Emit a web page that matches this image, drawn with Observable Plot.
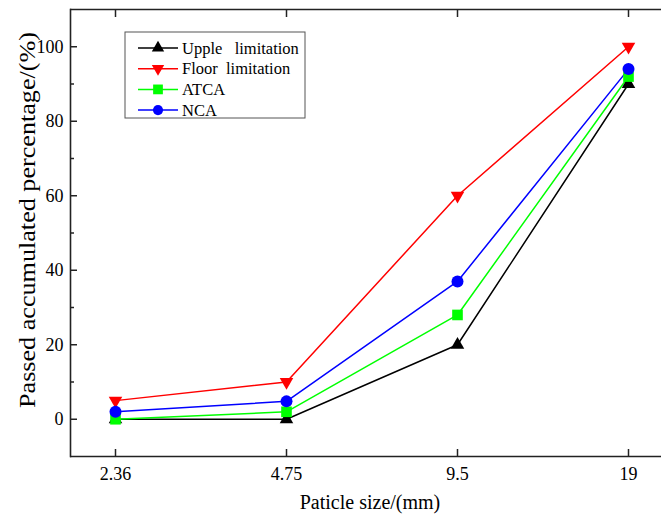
<!DOCTYPE html>
<html>
<head>
<meta charset="utf-8">
<script src="https://cdn.jsdelivr.net/npm/d3@7"></script>
<script src="https://cdn.jsdelivr.net/npm/@observablehq/plot@0.6"></script>
<style>
  html, body { margin: 0; padding: 0; background: #fff; }
</style>
</head>
<body>
<div id="chart"></div>
<script>
// ---- data ----
const sizes = ["2.36", "4.75", "9.5", "19"];
const seriesNames = ["Upple limitation", "Floor limitation", "ATCA", "NCA"];
const legendLabels = ["Upple   limitation", "Floor  limitation", "ATCA", "NCA"];
const upple = [0, 0, 20, 90];
const floorLim = [5, 10, 60, 100];
const atca = [0, 2, 28, 92];
const nca = [2, 4.8, 37, 94];
const yMajorTicks = [0, 20, 40, 60, 80, 100];
const yMinorTicks = [10, 30, 50, 70, 90];
const xTitle = "Paticle size/(mm)";
const yTitle = "Passed accumulated percentage/(%)";

// ---- styles ----
const colors = ["#000000", "#ff0000", "#00ff00", "#0000ff"];
const S3 = Math.sqrt(3);
const triUp = {
  draw(ctx, size) {
    const y = -Math.sqrt(0.7 * size / (3 * S3));
    ctx.moveTo(0, 2 * y);
    ctx.lineTo(-S3 * y, -y);
    ctx.lineTo(S3 * y, -y);
    ctx.closePath();
  }
};
const triDown = {
  draw(ctx, size) {
    const y = Math.sqrt(0.7 * size / (3 * S3));
    ctx.moveTo(0, 2 * y);
    ctx.lineTo(-S3 * y, -y);
    ctx.lineTo(S3 * y, -y);
    ctx.closePath();
  }
};
const symbols = [triUp, triDown, d3.symbolSquare, d3.symbolCircle];

const seriesValues = [upple, floorLim, atca, nca];
const rows = [];
seriesNames.forEach((name, i) => {
  sizes.forEach((s, j) => rows.push({series: name, size: s, value: seriesValues[i][j]}));
});

const axisColor = "#222";
const font = "'Liberation Serif', 'Times New Roman', serif";

const svg = Plot.plot({
  width: 661,
  height: 515,
  marginLeft: 70,
  marginRight: 0,
  marginTop: 9,
  marginBottom: 59,
  style: {fontFamily: font, fontSize: "18px", color: "#000", background: "#fff"},
  x: {type: "point", domain: sizes, range: [70, 672], padding: 0.257, label: null},
  y: {domain: [-10, 110], label: null},
  color: {domain: seriesNames, range: colors},
  symbol: {domain: seriesNames, range: symbols},
  marks: [
    Plot.ruleY([-10, 110], {stroke: axisColor, strokeWidth: 1.6}),
    Plot.frame({anchor: "left", stroke: axisColor, strokeWidth: 1.6}),
    Plot.axisY(yMajorTicks, {anchor: "left", tickSize: -7, tickPadding: 14, stroke: axisColor, strokeWidth: 1.5}),
    Plot.axisY(yMinorTicks, {anchor: "left", tickSize: -4, text: null, stroke: axisColor, strokeWidth: 1.5}),
    Plot.axisX({anchor: "bottom", tickSize: -7, tickPadding: 18, stroke: axisColor, strokeWidth: 1.5}),
    Plot.axisX({anchor: "top", tickSize: -7, text: null, stroke: axisColor, strokeWidth: 1.5}),
    Plot.line(rows, {x: "size", y: "value", z: "series", stroke: "series", strokeWidth: 1.5}),
    Plot.dot(rows, {x: "size", y: "value", fill: "series", symbol: "series", r: 6, stroke: null}),
    Plot.text([xTitle], {frameAnchor: "bottom", dx: 4, dy: 46, fontSize: 20, lineAnchor: "middle", textAnchor: "middle", fill: "#000"}),
    Plot.text([yTitle], {frameAnchor: "left", rotate: -90, dx: -43, dy: -13, fontSize: 23, lineAnchor: "middle", textAnchor: "middle", fill: "#000", className: "ytitle"})
  ]
});

// stretch the y title along its length, as in the reference
d3.select(svg).selectAll("g.ytitle text, .ytitle text")
  .attr("textLength", 376)
  .attr("lengthAdjust", "spacingAndGlyphs");

// ---- legend (inside plot, top-left) ----
const lg = d3.select(svg).append("g").attr("text-anchor", "start");
lg.append("rect")
  .attr("x", 125).attr("y", 32).attr("width", 180).attr("height", 86)
  .attr("fill", "#fff").attr("stroke", "#555").attr("stroke-width", 1);
legendLabels.forEach((label, i) => {
  const y = 48 + i * 20.7;
  lg.append("line")
    .attr("x1", 138).attr("x2", 178).attr("y1", y).attr("y2", y)
    .attr("stroke", colors[i]).attr("stroke-width", 1.5);
  lg.append("path")
    .attr("transform", `translate(158,${y})`)
    .attr("d", d3.symbol(symbols[i], Math.PI * 5.5 * 5.5 * (i === 3 ? 0.85 : 1))())
    .attr("fill", colors[i]);
  lg.append("text")
    .attr("x", 182).attr("y", y).attr("dy", "0.35em")
    .attr("text-anchor", "start")
    .attr("font-size", 16.5).attr("font-family", font)
    .attr("fill", "#000")
    .style("white-space", "pre")
    .attr("xml:space", "preserve")
    .text(label);
});

document.getElementById("chart").appendChild(svg);
</script>
</body>
</html>
